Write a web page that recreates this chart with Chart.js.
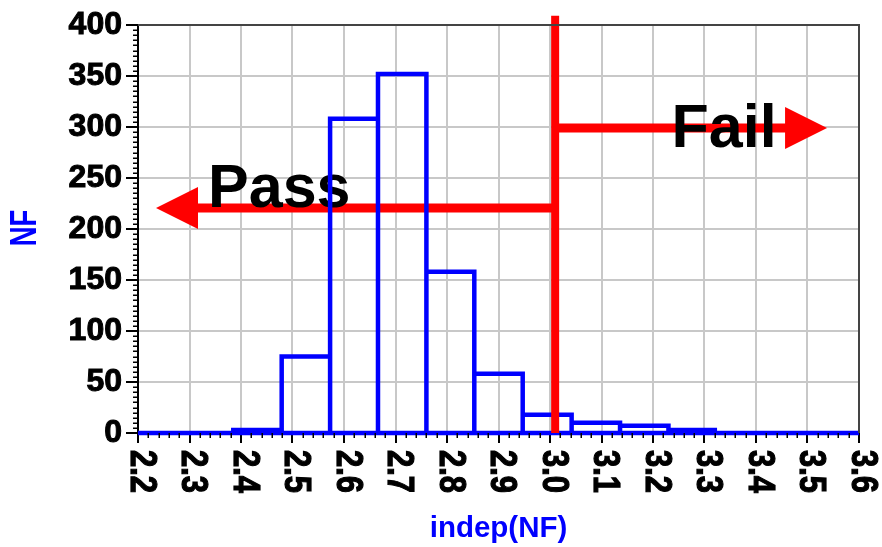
<!DOCTYPE html>
<html>
<head>
<meta charset="utf-8">
<script src="https://cdn.jsdelivr.net/npm/chart.js@4/dist/chart.umd.min.js"></script>
<style>
  html, body { margin: 0; padding: 0; background: #ffffff; }
  canvas { display: block; }
</style>
</head>
<body>
<canvas id="nfHist" width="882" height="547"></canvas>
<script>
// Noise-figure histogram: bin edges (NF) and the number of runs in each bin
const binEdges  = [2.385, 2.479, 2.573, 2.666, 2.760, 2.853, 2.947, 3.042, 3.136, 3.230, 3.320];
const binCounts = [3, 75, 308, 352, 158, 58, 18, 10, 7, 3];

// Axis range and tick labels
const xRange = [2.2, 3.6];
const yRange = [0, 400];
const xTickLabels = ['2.2', '2.3', '2.4', '2.5', '2.6', '2.7', '2.8', '2.9',
                     '3.0', '3.1', '3.2', '3.3', '3.4', '3.5', '3.6'];

// Spec limit and the pass / fail markers (data units)
const specLimit = 3.01;
const specLineTop = 409;
const passMarker = { label: 'Pass', arrowY: 220.5, tipX: 2.235, textX: 2.336, textY: 222 };
const failMarker = { label: 'Fail', arrowY: 299,   tipX: 3.538, textX: 3.236, textY: 280.5 };

const BLUE = '#0000ff';
const RED = '#ff0000';
const FONT = '"Liberation Sans", Arial, Helvetica, sans-serif';

// Outline of each bin as a closed rectangle sharing the baseline
const outline = [];
for (let i = 0; i < binCounts.length; i++) {
  outline.push({ x: binEdges[i], y: 0 });
  outline.push({ x: binEdges[i], y: binCounts[i] });
  outline.push({ x: binEdges[i + 1], y: binCounts[i] });
  outline.push({ x: binEdges[i + 1], y: 0 });
}
const baseline = [{ x: xRange[0], y: 0 }, { x: xRange[1], y: 0 }];

function drawArrow(ctx, x0, x1, y, headLen, headHalf, width) {
  const dir = Math.sign(x1 - x0);
  const base = x1 - dir * headLen;
  ctx.save();
  ctx.strokeStyle = RED;
  ctx.fillStyle = RED;
  ctx.lineWidth = width;
  ctx.lineCap = 'butt';
  ctx.beginPath();
  ctx.moveTo(x0, y);
  ctx.lineTo(base + dir * 1, y);
  ctx.stroke();
  ctx.beginPath();
  ctx.moveTo(x1, y);
  ctx.lineTo(base, y - headHalf);
  ctx.lineTo(base, y + headHalf);
  ctx.closePath();
  ctx.fill();
  ctx.restore();
}

const markers = {
  id: 'markers',
  beforeDatasetsDraw(chart) {
    const { ctx, scales: { x, y } } = chart;
    const xs = x.getPixelForValue(specLimit);
    for (const m of [passMarker, failMarker]) {
      drawArrow(ctx, xs, x.getPixelForValue(m.tipX), y.getPixelForValue(m.arrowY), 42, 21, 9);
    }
    ctx.save();
    ctx.fillStyle = '#000000';
    ctx.font = 'bold 61px ' + FONT;
    ctx.textAlign = 'left';
    ctx.textBaseline = 'alphabetic';
    for (const m of [passMarker, failMarker]) {
      ctx.fillText(m.label, x.getPixelForValue(m.textX), y.getPixelForValue(m.textY));
    }
    ctx.restore();
  },
  afterDatasetsDraw(chart) {
    const { ctx, scales: { x, y } } = chart;
    const xs = x.getPixelForValue(specLimit);
    ctx.save();
    ctx.strokeStyle = RED;
    ctx.lineWidth = 8;
    ctx.lineCap = 'butt';
    ctx.beginPath();
    ctx.moveTo(xs, y.getPixelForValue(0));
    ctx.lineTo(xs, y.getPixelForValue(specLineTop));
    ctx.stroke();
    ctx.restore();
  },
  afterDraw(chart) {
    const { ctx, chartArea: a, scales: { x, y } } = chart;
    ctx.save();
    // frame on top and right
    ctx.strokeStyle = '#444444';
    ctx.lineWidth = 2;
    ctx.beginPath();
    ctx.moveTo(a.left, a.top);
    ctx.lineTo(a.right, a.top);
    ctx.lineTo(a.right, a.bottom);
    ctx.stroke();

    // minor tick marks
    ctx.strokeStyle = '#000000';
    ctx.lineWidth = 1.5;
    ctx.beginPath();
    for (let v = yRange[0] + 5; v < yRange[1]; v += 5) {
      if (v % 50 === 0) continue;
      const py = Math.round(y.getPixelForValue(v)) + 0.25;
      ctx.moveTo(a.left - 5, py);
      ctx.lineTo(a.left, py);
    }
    for (let k = 1; k < 70; k++) {
      if (k % 5 === 0) continue;
      const px = Math.round(x.getPixelForValue(xRange[0] + k * 0.02)) + 0.25;
      ctx.moveTo(px, a.bottom);
      ctx.lineTo(px, a.bottom + 5);
    }
    ctx.stroke();

    // x tick labels, reading downward
    ctx.fillStyle = '#000000';
    ctx.strokeStyle = '#000000';
    ctx.lineWidth = 1;
    ctx.font = 'bold 31px ' + FONT;
    ctx.textAlign = 'left';
    ctx.textBaseline = 'middle';
    for (const lab of xTickLabels) {
      const px = x.getPixelForValue(parseFloat(lab)) + 3;
      ctx.save();
      ctx.translate(px, a.bottom + 17);
      ctx.scale(1.22, 1);
      ctx.rotate(Math.PI / 2);
      ctx.fillText(lab, 0, 0);
      ctx.strokeText(lab, 0, 0);
      ctx.restore();
    }

    // axis titles
    ctx.fillStyle = BLUE;
    ctx.font = 'bold 27.5px ' + FONT;
    ctx.textAlign = 'center';
    ctx.textBaseline = 'middle';
    ctx.save();
    ctx.translate(25.5, 228);
    ctx.scale(1.35, 1);
    ctx.rotate(-Math.PI / 2);
    ctx.fillText('NF', 0, 0);
    ctx.restore();

    ctx.font = 'bold 29.5px ' + FONT;
    ctx.textBaseline = 'alphabetic';
    ctx.fillText('indep(NF)', (a.left + a.right) / 2, 537);
    ctx.restore();
  }
};

new Chart(document.getElementById('nfHist'), {
  type: 'line',
  data: {
    datasets: [
      { data: baseline, borderColor: BLUE, borderWidth: 4.5, pointRadius: 0, fill: false, clip: false },
      { data: outline, borderColor: BLUE, borderWidth: 4.5, pointRadius: 0, fill: false, clip: false,
        tension: 0, borderJoinStyle: 'miter' }
    ]
  },
  options: {
    responsive: false,
    animation: false,
    events: [],
    layout: { padding: { top: 25, right: 23, left: 0, bottom: 0 } },
    plugins: { legend: { display: false }, tooltip: { enabled: false } },
    scales: {
      x: {
        type: 'linear',
        min: xRange[0],
        max: xRange[1],
        afterFit(scale) { scale.height = 114; },
        ticks: { display: false, stepSize: 0.1 },
        grid: { color: '#c8c8c8', lineWidth: 2, tickColor: '#000000', tickLength: 10, tickWidth: 2 },
        border: { display: true, color: '#000000', width: 2 }
      },
      y: {
        type: 'linear',
        min: yRange[0],
        max: yRange[1],
        afterFit(scale) { scale.width = 138; },
        ticks: {
          stepSize: 50,
          color: '#000000',
          padding: 4,
          textStrokeColor: '#000000',
          textStrokeWidth: 1,
          font: { family: FONT, size: 32, weight: 'bold' }
        },
        grid: { color: '#c8c8c8', lineWidth: 2, tickColor: '#000000', tickLength: 12, tickWidth: 2 },
        border: { display: true, color: '#000000', width: 2 }
      }
    }
  },
  plugins: [markers]
});
</script>
</body>
</html>
